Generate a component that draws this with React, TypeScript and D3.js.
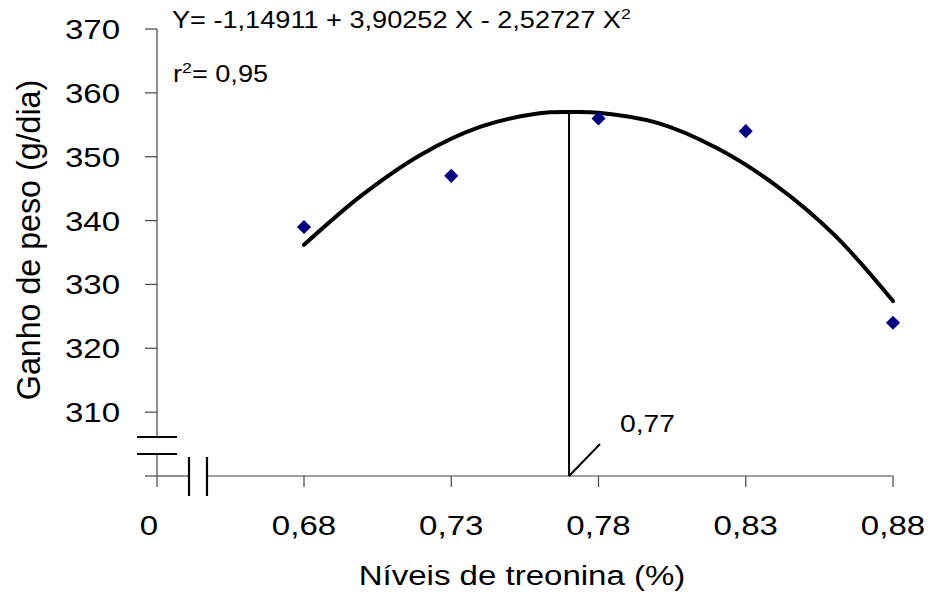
import React from "react";
import * as d3 from "d3";

// ---- data ----
const levels = [0.68, 0.73, 0.78, 0.83, 0.88];
const weightGain = [339, 347, 356, 354, 324];
const xTickLabels = ["0,68", "0,73", "0,78", "0,83", "0,88"];
const yTicks = [310, 320, 330, 340, 350, 360, 370];
const fitX = [0.68, 0.70, 0.72, 0.74, 0.76, 0.77, 0.78, 0.80, 0.82, 0.84, 0.86, 0.88];
const fitY = [336.2, 344.1, 350.4, 354.7, 356.8, 357.0, 356.9, 355.3, 351.4, 345.6, 337.8, 327.4];
const optimumX = 0.77;
const optimumY = 357.0;
const equationText = "Y= -1,14911 + 3,90252 X - 2,52727 X";
const r2Text = "= 0,95";
const optimumLabel = "0,77";
const xTitle = "Níveis de treonina (%)";
const yTitle = "Ganho de peso (g/dia)";

const W = 932;
const H = 603;
const FONT = "'Liberation Sans', Arial, sans-serif";
const SX = 1.18;

const x = d3.scaleLinear().domain([0.68, 0.88]).range([304, 893]);
const y = d3.scaleLinear().domain([300, 370]).range([476, 29]);
const x0 = 157; // broken-axis origin ("0")
const axisY = y(300);

const T = ({ tx, ty, size, anchor = "start", children, rotate = 0 }: any) => (
  <g transform={`translate(${tx},${ty}) rotate(${rotate}) scale(${SX},1)`}>
    <text x={0} y={0} fontSize={size} fontFamily={FONT} textAnchor={anchor} fill="#000">
      {children}
    </text>
  </g>
);

export default function App() {
  const line = d3
    .line<number>()
    .x((_, i) => x(fitX[i]))
    .y((d) => y(d))
    .curve(d3.curveCatmullRom.alpha(0.5));
  const diamond = d3.symbol().type(d3.symbolSquare).size(100)();
  const axisColor = "#444";
  const breakTop = 437;
  const breakBot = 454;
  const xBreakL = 189;
  const xBreakR = 207;
  const tickLen = 11;

  return (
    <svg width={W} height={H} style={{ position: "absolute", left: 0, top: 0, background: "#fff" }}>
      <rect width={W} height={H} fill="#fff" />
      {/* y axis */}
      <line x1={x0} x2={x0} y1={y(370)} y2={breakTop} stroke={axisColor} strokeWidth={1.2} />
      <line x1={x0} x2={x0} y1={breakBot} y2={axisY + tickLen} stroke={axisColor} strokeWidth={1.2} />
      {yTicks.map((t) => (
        <g key={t}>
          <line x1={x0 - 12} x2={x0} y1={y(t)} y2={y(t)} stroke={axisColor} strokeWidth={1.2} />
          <T tx={120} ty={y(t) + 10} size={28} anchor="end">{t}</T>
        </g>
      ))}
      <line x1={x0 - 12} x2={x0} y1={axisY} y2={axisY} stroke={axisColor} strokeWidth={1.2} />
      {/* y break marks */}
      <line x1={137} x2={177} y1={breakTop} y2={breakTop} stroke="#000" strokeWidth={2.2} />
      <line x1={137} x2={177} y1={breakBot} y2={breakBot} stroke="#000" strokeWidth={2.2} />
      {/* x axis */}
      <line x1={x0} x2={xBreakL} y1={axisY} y2={axisY} stroke={axisColor} strokeWidth={1.2} />
      <line x1={xBreakR} x2={x(0.88)} y1={axisY} y2={axisY} stroke={axisColor} strokeWidth={1.2} />
      <line x1={xBreakL} x2={xBreakL} y1={457} y2={496} stroke="#000" strokeWidth={2.2} />
      <line x1={xBreakR} x2={xBreakR} y1={457} y2={496} stroke="#000" strokeWidth={2.2} />
      {levels.map((l, i) => (
        <g key={l}>
          <line x1={x(l)} x2={x(l)} y1={axisY} y2={axisY + tickLen} stroke={axisColor} strokeWidth={1.2} />
          <T tx={x(l)} ty={535} size={28} anchor="middle">{xTickLabels[i]}</T>
        </g>
      ))}
      <T tx={149} ty={535} size={28} anchor="middle">0</T>
      {/* titles */}
      <T tx={522} ty={585} size={28} anchor="middle">{xTitle}</T>
      <g transform={`translate(40,240) rotate(-90) scale(1.15,1.18)`}>
        <text x={0} y={0} fontSize={28} fontFamily={FONT} textAnchor="middle">{yTitle}</text>
      </g>
      {/* optimum line */}
      <line x1={x(optimumX)} x2={x(optimumX)} y1={axisY} y2={y(optimumY)} stroke="#000" strokeWidth={2} />
      <line x1={x(optimumX)} x2={x(optimumX) + 31} y1={axisY} y2={axisY - 32} stroke="#000" strokeWidth={2} />
      <T tx={620} ty={432} size={24}>{optimumLabel}</T>
      {/* fitted curve */}
      <path d={line(fitY) || ""} fill="none" stroke="#000" strokeWidth={4} strokeLinecap="round" />
      {/* points */}
      {levels.map((l, i) => (
        <path key={l} d={diamond || ""} transform={`translate(${x(l)},${y(weightGain[i])}) rotate(45)`} fill="#000080" />
      ))}
      {/* equation */}
      <g transform={`translate(172,28) scale(${SX},1)`}>
        <text fontSize={23} fontFamily={FONT} fill="#000">
          {equationText}
          <tspan fontSize={15} dy={-9}>2</tspan>
        </text>
      </g>
      <g transform={`translate(173,82) scale(${SX},1)`}>
        <text fontSize={23} fontFamily={FONT} fill="#000">
          r<tspan fontSize={15} dy={-9}>2</tspan>
          <tspan dy={9}>{r2Text}</tspan>
        </text>
      </g>
    </svg>
  );
}
